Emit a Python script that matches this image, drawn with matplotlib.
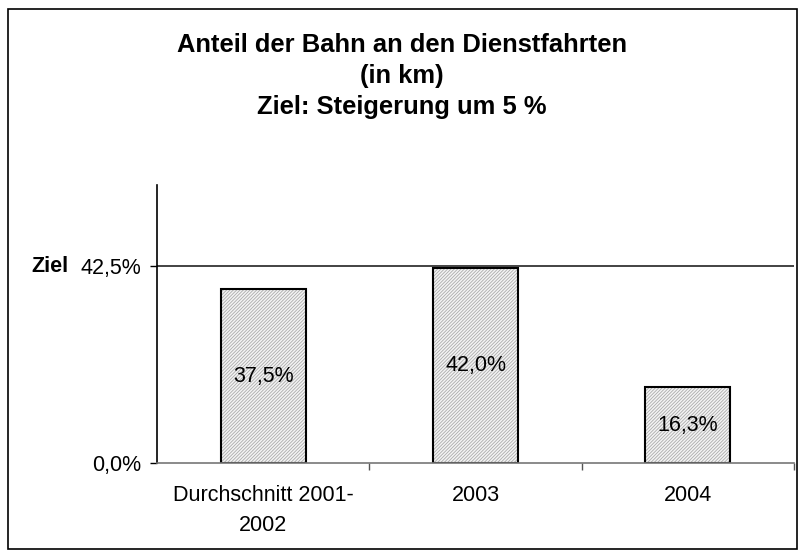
import matplotlib.pyplot as plt
from matplotlib.patches import Rectangle

plt.rcParams['font.family'] = ['Liberation Sans', 'DejaVu Sans']
plt.rcParams['hatch.linewidth'] = 0.6

categories = ["Durchschnitt 2001-\n2002", "2003", "2004"]
values = [37.5, 42.0, 16.3]
target = 42.5
ymax = 60

def pct(v):
    return ("%.1f%%" % v).replace(".", ",")

fig = plt.figure(figsize=(8.04, 5.59), dpi=100)
ax = fig.add_axes([0.1953, 0.1717, 0.7923, 0.4974])

x = list(range(len(categories)))
# hatched fill, then black outline on top
ax.bar(x, values, width=0.4, color='#f4f4f4', edgecolor='#ababab', hatch='/' * 10, linewidth=0)
ax.bar(x, values, width=0.4, fill=False, edgecolor='black', linewidth=1.5)

for xi, v in zip(x, values):
    ax.text(xi, v / 2, pct(v), ha='center', va='center', fontsize=15.5)

ax.axhline(target, color='#222222', linewidth=1.2)

ax.set_xlim(-0.5, len(categories) - 0.5)
ax.set_ylim(0, ymax)
ax.set_yticks([0, target])
ax.set_yticklabels([pct(0), pct(target)], fontsize=15.5)
ax.tick_params(axis='y', length=5, width=1, pad=6)

ax.set_xticks(x)
ax.set_xticklabels(categories, fontsize=15.5, linespacing=1.55)
ax.tick_params(axis='x', which='major', length=0, pad=16)
ax.set_xticks([i + 0.5 for i in x], minor=True)
ax.tick_params(axis='x', which='minor', length=5, width=1, color='#555555')

ax.spines['top'].set_visible(False)
ax.spines['right'].set_visible(False)
ax.spines['bottom'].set_color('#777777')
ax.spines['bottom'].set_linewidth(1.2)
ax.spines['left'].set_linewidth(1.2)

fig.text(69 / 804, 1 - 267 / 559, "Ziel", ha='right', va='center', fontsize=15.5, fontweight='bold')

fig.text(0.5, 1 - 76 / 559, "Anteil der Bahn an den Dienstfahrten\n(in km)\nZiel: Steigerung um 5 %",
         ha='center', va='center', fontsize=18.4, fontweight='bold', linespacing=1.37)

fig.patches.append(Rectangle((8 / 804, 1 - 549 / 559), 789 / 804, 540 / 559, transform=fig.transFigure,
                             fill=False, edgecolor='black', linewidth=1.2))

fig.savefig("out.png", dpi=100)
